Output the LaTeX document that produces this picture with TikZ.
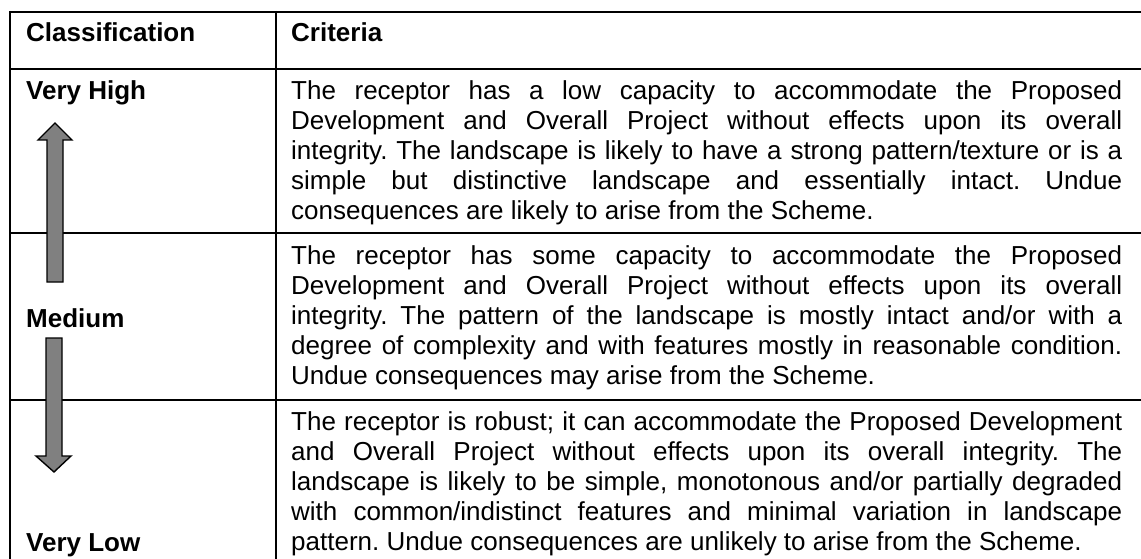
\documentclass[tikz,border=0pt]{standalone}
\usepackage{fontspec}
\setmainfont{Liberation Sans}
\usetikzlibrary{positioning}

\hyphenpenalty=10000
\tolerance=9999
\frenchspacing

\tikzset{
	criteria/.style={anchor=base west, inner sep=0pt, text width=831pt, align=justify,
		font=\fontsize{26}{30}\selectfont},
	classtext/.style={anchor=base west, inner sep=0pt, font=\bfseries\fontsize{26}{30}\selectfont},
	bigarrow/.style={draw=black, line width=1.4pt, fill=gray, line join=miter}
}

\begin{document}
\begin{tikzpicture}[x=1pt,y=-1pt]
	\useasboundingbox (0,0) rectangle (1141,559);
	% rules of the table
	\draw[line width=2.2pt] (10,12) -- (1141,12);
	\draw[line width=2.2pt] (10,69) -- (1141,69);
	\foreach \y in {233,400}
	\draw[line width=1.8pt] (10,\y) -- (1141,\y);
	\draw[line width=2pt] (10,11) -- (10,559);
	\draw[line width=2pt] (276,11) -- (276,559);
	% header
	\node[classtext] (classhead) at (26,42) {Classification};
	\node[classtext] (critlhead) at (291,42) {Criteria};
	% classes
	\node[classtext] (veryhigh) at (26,100) {Very High};
	\node[classtext] (medium) at (26,327) {Medium};
	\node[classtext] (verylow) at (26,551) {Very Low};
	% arrows between the classes
	\draw[bigarrow] (47,282) -- (47,140) -- (38,140) -- (55,123) -- (72,140) -- (63,140) -- (63,282) -- cycle;
	\draw[bigarrow] (46,338) -- (46,456) -- (36,456) -- (54,472) -- (71,456) -- (62,456) -- (62,338) -- cycle;
	% criteria
	\node[criteria] (crithigh) at (291,100) {The receptor has a low capacity to accommodate the Proposed\linebreak
		Development and Overall Project without effects upon its overall\linebreak
		integrity. The landscape is likely to have a strong pattern/texture or is a\linebreak
		simple but distinctive landscape and essentially intact. Undue\linebreak
		consequences are likely to arise from the Scheme.};
	\node[criteria] (critmedium) at (291,264) {The receptor has some capacity to accommodate the Proposed\linebreak
		Development and Overall Project without effects upon its overall\linebreak
		integrity. The pattern of the landscape is mostly intact and/or with a\linebreak
		degree of complexity and with features mostly in reasonable condition.\linebreak
		Undue consequences may arise from the Scheme.};
	\node[criteria] (critlow) at (291,430) {The receptor is robust; it can accommodate the Proposed Development\linebreak
		and Overall Project without effects upon its overall integrity. The\linebreak
		landscape is likely to be simple, monotonous and/or partially degraded\linebreak
		with common/indistinct features and minimal variation in landscape\linebreak
		pattern. Undue consequences are unlikely to arise from the Scheme.};
\end{tikzpicture}
\end{document}
